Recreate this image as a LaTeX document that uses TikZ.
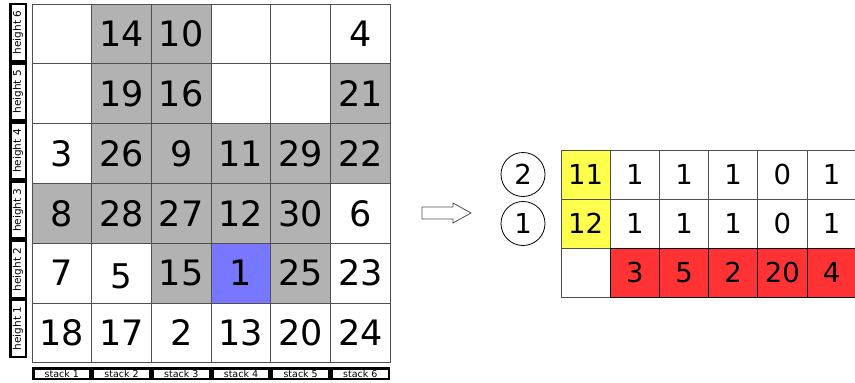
\documentclass[tikz,border=0pt]{standalone}
\usepackage{fontspec}
\setmainfont{DejaVu Sans}
\definecolor{cgray}{RGB}{178,178,178}
\definecolor{cblue}{RGB}{119,119,255}
\definecolor{cyellow}{RGB}{255,255,77}
\definecolor{cred}{RGB}{255,51,51}
\definecolor{gline}{RGB}{80,80,80}
\begin{document}
\begin{tikzpicture}[x=1pt,y=-1pt,
  cell/.style={draw=gline, line width=0.8pt, minimum width=59.7pt, minimum height=59.8pt,
    inner sep=0pt, font=\fontsize{35}{40}\selectfont},
  tcell/.style={draw=gline, line width=0.8pt, minimum width=49.2pt, minimum height=49pt,
    inner sep=0pt, font=\fontsize{27.5}{32}\selectfont},
  hlabel/.style={draw=black, line width=2.5pt, rotate=90, minimum width=57pt,
    minimum height=15.5pt, inner sep=0pt, font=\fontsize{10.5}{12}\selectfont},
  slabel/.style={draw=black, line width=2.5pt, minimum width=57.2pt,
    minimum height=10.5pt, inner sep=0pt, font=\fontsize{9.5}{10}\selectfont},
  marker/.style={draw=black, line width=0.8pt, circle, minimum size=44pt,
    inner sep=0pt, font=\fontsize{27.5}{32}\selectfont}]
\useasboundingbox (0,0) rectangle (855,383);

% stacking grid: column / row (top = 1) / label / fill
\foreach \c/\r/\v/\f in {
  1/1//white, 2/1/14/cgray, 3/1/10/cgray, 4/1//white, 5/1//white, 6/1/4/white,
  1/2//white, 2/2/19/cgray, 3/2/16/cgray, 4/2//white, 5/2//white, 6/2/21/cgray,
  1/3/3/white, 2/3/26/cgray, 3/3/9/cgray, 4/3/11/cgray, 5/3/29/cgray, 6/3/22/cgray,
  1/4/8/cgray, 2/4/28/cgray, 3/4/27/cgray, 4/4/12/cgray, 5/4/30/cgray, 6/4/6/white,
  1/5/7/white, 2/5//white, 3/5/15/cgray, 4/5/1/cblue, 5/5/25/cgray, 6/5/23/white,
  1/6/18/white, 2/6/17/white, 3/6/2/white, 4/6/13/white, 5/6/20/white, 6/6/24/white}
  \node[cell, fill=\f] (g-\c-\r) at ({32+(\c-0.5)*59.7}, {4+(\r-0.5)*59.8}) {\v};
% the lower-set five
\node[font=\fontsize{34}{40}\selectfont, inner sep=0pt, yshift=-3pt] (five) at (g-2-5) {5};

% height labels
\foreach \r/\n in {1/6,2/5,3/4,4/3,5/2,6/1}
  \node[hlabel] (h\n) at (18, {3+(\r-0.5)*59.2}) {height \n};

% stack labels
\foreach \c in {1,...,6}
  \node[slabel] (s\c) at ({32+(\c-0.5)*59.7}, 373.5) {stack \c};

% block arrow
\draw[draw=gline, line width=0.8pt, fill=white]
  (422,207) -- (453,207) -- (453,203) -- (471,213) -- (453,223) -- (453,219) -- (422,219) -- cycle;

% level markers
\node[marker] (m2) at (523,174.5) {2};
\node[marker] (m1) at (523,223.5) {1};

% result table
\foreach \c/\r/\v/\f in {
  1/1/11/cyellow, 2/1/1/white, 3/1/1/white, 4/1/1/white, 5/1/0/white, 6/1/1/white,
  1/2/12/cyellow, 2/2/1/white, 3/2/1/white, 4/2/1/white, 5/2/0/white, 6/2/1/white,
  1/3//white}
  \node[tcell, fill=\f] (t-\c-\r) at ({561+(\c-0.5)*49.2}, {150+(\r-0.5)*49}) {\v};
\foreach \c/\v in {2/3, 3/5, 4/2, 5/20, 6/4}
  \node[tcell, draw=black, fill=cred] (t-\c-3) at ({561+(\c-0.5)*49.2}, {150+2.5*49}) {\v};
\end{tikzpicture}
\end{document}
